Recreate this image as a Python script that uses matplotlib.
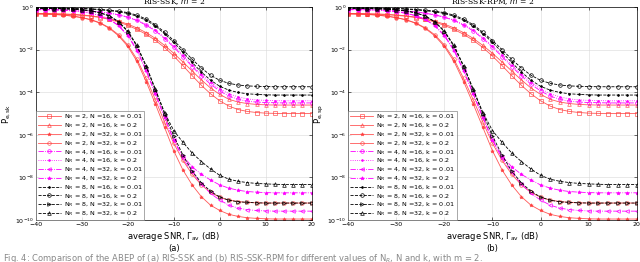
import numpy as np
import matplotlib
matplotlib.use("Agg")
import matplotlib.pyplot as plt

# average SNR (dB), one point every 2 dB
snr = list(range(-40, 21, 2))

# log10 of the error probability (both panels look the same)
nr2_n16_k001 = [-0.32,-0.32,-0.33,-0.34,-0.36,-0.39,-0.43,-0.49,-0.58,-0.70,-0.86,-1.05,-1.28,-1.56,-1.9,-2.3,-2.75,-3.22,-3.67,-4.07,-4.4,-4.65,-4.81,-4.9,-4.95,-4.98,-4.99,-5.0,-5.0,-5.0,-5.0]
nr2_n16_k02 = [-0.30,-0.30,-0.31,-0.32,-0.34,-0.37,-0.41,-0.47,-0.55,-0.66,-0.80,-0.98,-1.2,-1.47,-1.8,-2.17,-2.58,-3.0,-3.42,-3.8,-4.1,-4.33,-4.46,-4.53,-4.57,-4.59,-4.6,-4.6,-4.6,-4.6,-4.6]
nr2_n32_k001 = [-0.32,-0.33,-0.35,-0.38,-0.43,-0.50,-0.60,-0.76,-1.00,-1.35,-1.85,-2.55,-3.50,-4.55,-5.65,-6.75,-7.65,-8.35,-8.9,-9.3,-9.55,-9.73,-9.83,-9.89,-9.92,-9.94,-9.95,-9.95,-9.95,-9.95,-9.95]
nr2_n32_k02 = [-0.31,-0.32,-0.34,-0.37,-0.42,-0.49,-0.59,-0.74,-0.97,-1.30,-1.78,-2.45,-3.35,-4.35,-5.4,-6.4,-7.2,-7.85,-8.35,-8.7,-8.93,-9.06,-9.13,-9.17,-9.19,-9.2,-9.2,-9.2,-9.2,-9.2,-9.2]
nr4_n16_k001 = [-0.12,-0.12,-0.12,-0.13,-0.14,-0.16,-0.19,-0.23,-0.29,-0.37,-0.48,-0.63,-0.85,-1.12,-1.48,-1.88,-2.33,-2.79,-3.23,-3.62,-3.94,-4.18,-4.33,-4.42,-4.46,-4.48,-4.49,-4.5,-4.5,-4.5,-4.5]
nr4_n16_k02 = [-0.12,-0.12,-0.12,-0.13,-0.14,-0.16,-0.18,-0.22,-0.28,-0.35,-0.46,-0.61,-0.82,-1.08,-1.43,-1.83,-2.27,-2.72,-3.15,-3.53,-3.84,-4.07,-4.22,-4.31,-4.36,-4.38,-4.39,-4.4,-4.4,-4.4,-4.4]
nr4_n32_k001 = [-0.12,-0.12,-0.13,-0.15,-0.18,-0.22,-0.29,-0.40,-0.58,-0.88,-1.35,-2.05,-3.0,-4.1,-5.2,-6.25,-7.1,-7.75,-8.3,-8.75,-9.06,-9.3,-9.44,-9.51,-9.55,-9.57,-9.58,-9.58,-9.58,-9.58,-9.58]
nr4_n32_k02 = [-0.12,-0.12,-0.13,-0.15,-0.18,-0.22,-0.29,-0.40,-0.57,-0.86,-1.32,-2.0,-2.95,-4.05,-5.15,-6.25,-7.0,-7.5,-7.85,-8.12,-8.35,-8.5,-8.6,-8.66,-8.69,-8.71,-8.72,-8.72,-8.72,-8.72,-8.72]
nr8_n16_k001 = [-0.05,-0.05,-0.05,-0.06,-0.07,-0.08,-0.10,-0.13,-0.17,-0.22,-0.30,-0.43,-0.62,-0.89,-1.25,-1.66,-2.12,-2.6,-3.05,-3.43,-3.72,-3.9,-4.01,-4.07,-4.1,-4.12,-4.13,-4.13,-4.13,-4.13,-4.13]
nr8_n16_k02 = [-0.03,-0.03,-0.03,-0.04,-0.05,-0.06,-0.08,-0.11,-0.14,-0.19,-0.26,-0.38,-0.56,-0.83,-1.18,-1.57,-2.0,-2.45,-2.86,-3.2,-3.44,-3.58,-3.66,-3.7,-3.72,-3.73,-3.74,-3.74,-3.74,-3.74,-3.74]
nr8_n32_k001 = [-0.06,-0.06,-0.07,-0.08,-0.10,-0.13,-0.18,-0.27,-0.42,-0.70,-1.15,-1.85,-2.8,-3.9,-5.0,-6.05,-6.95,-7.7,-8.25,-8.65,-8.92,-9.07,-9.14,-9.17,-9.19,-9.2,-9.2,-9.2,-9.2,-9.2,-9.2]
nr8_n32_k02 = [-0.06,-0.06,-0.07,-0.08,-0.10,-0.13,-0.18,-0.27,-0.41,-0.68,-1.12,-1.8,-2.75,-3.85,-4.95,-5.8,-6.35,-6.85,-7.25,-7.6,-7.9,-8.08,-8.18,-8.24,-8.28,-8.3,-8.32,-8.33,-8.33,-8.33,-8.33]

labels = [
    "N$_R$ = 2, N =16, k = 0.01", "N$_R$ = 2, N =16, k = 0.2",
    "N$_R$ = 2, N =32, k = 0.01", "N$_R$ = 2, N =32, k = 0.2",
    "N$_R$ = 4, N =16, k = 0.01", "N$_R$ = 4, N =16, k = 0.2",
    "N$_R$ = 4, N =32, k = 0.01", "N$_R$ = 4, N =32, k = 0.2",
    "N$_R$ = 8, N =16, k = 0.01", "N$_R$ = 8, N =16, k = 0.2",
    "N$_R$ = 8, N =32, k = 0.01", "N$_R$ = 8, N =32, k = 0.2",
]
series = [nr2_n16_k001, nr2_n16_k02, nr2_n32_k001, nr2_n32_k02,
          nr4_n16_k001, nr4_n16_k02, nr4_n32_k001, nr4_n32_k02,
          nr8_n16_k001, nr8_n16_k02, nr8_n32_k001, nr8_n32_k02]

red = "#ff3a3a"
mag = "#ff00ff"
styles = [
    (red, "-", "s", "none"), (red, "-", "^", "none"),
    (red, "-", "*", red), (red, "-", "o", "none"),
    (mag, "-.", "o", "none"), (mag, ":", ".", mag),
    (mag, "-.", "<", "none"), (mag, "-.", "*", mag),
    ("k", "--", ".", "k"), ("k", "--", "o", "none"),
    ("k", "--", ">", "none"), ("k", "--", "^", "none"),
]

fig = plt.figure(figsize=(6.4, 2.62), dpi=100)
ax1 = fig.add_axes([0.056, 0.160, 0.431, 0.813])
ax2 = fig.add_axes([0.544, 0.160, 0.451, 0.813])

panels = [(ax1, "RIS-SSK, $m$ = 2", "P$_{\\rm e,sk}$", "(a)"),
          (ax2, "RIS-SSK-RPM, $m$ = 2", "P$_{\\rm e,sp}$", "(b)")]

for ax, title, ylab, tag in panels:
    for vals, lab, (c, ls, mk, fc) in zip(series, labels, styles):
        ax.semilogy(snr, 10.0 ** np.array(vals), color=c, linestyle=ls, marker=mk,
                    markerfacecolor=fc, markersize=2.6, linewidth=0.6,
                    markeredgewidth=0.5, label=lab, alpha=0.85 if c == red else 1)
    ax.set_xlim(-40, 20)
    ax.set_ylim(1e-10, 1)
    ax.set_xticks(range(-40, 21, 10))
    ax.set_yticks([1, 1e-2, 1e-4, 1e-6, 1e-8, 1e-10])
    ax.set_yticklabels(["10$^{0}$", "10$^{-2}$", "10$^{-4}$", "10$^{-6}$", "10$^{-8}$", "10$^{-10}$"])
    ax.tick_params(labelsize=4.5, length=2, width=0.4, pad=1.5, direction="in",
                   top=True, right=True, which="both")
    ax.grid(True, which="major", color="#d8d8d8", linewidth=0.4)
    ax.grid(True, which="minor", axis="y", color="#ececec", linewidth=0.3)
    for s in ax.spines.values():
        s.set_linewidth(0.5)
    ax.set_title(title, fontsize=5.5, family="serif", pad=0.3)
    ax.set_ylabel(ylab, fontsize=6, labelpad=1)
    ax.set_xlabel("average SNR, $\\Gamma_{\\rm av}$ (dB)\n" + tag, fontsize=6,
                  labelpad=2, linespacing=1.1)
    leg = ax.legend(loc="lower left", fontsize=4.6, handlelength=3.6, labelspacing=0.0,
                    borderaxespad=0, fancybox=False, edgecolor="#808080",
                    borderpad=0.3, handletextpad=0.5)
    leg.get_frame().set_linewidth(0.6)

fig.text(0.005, 0.012, "Fig. 4: Comparison of the ABEP of (a) RIS-SSK and (b) RIS-SSK-RPM "
         "for different values of N$_R$, N and k, with m = 2.",
         fontsize=6, color="#888888", va="center", ha="left")

fig.savefig("out.png", dpi=100)
